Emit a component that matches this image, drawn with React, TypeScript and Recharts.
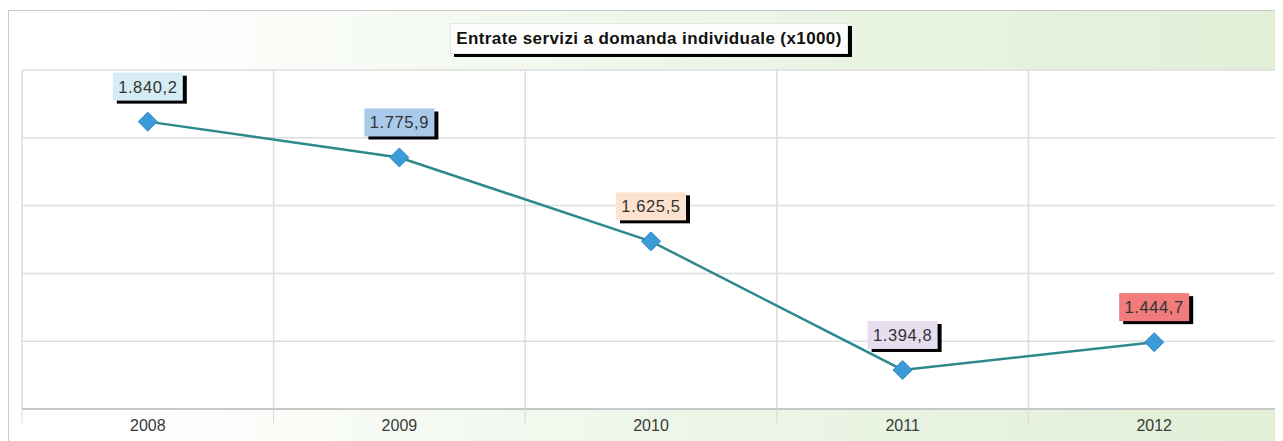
import React from 'react';
import { LineChart, Line, XAxis, YAxis, CartesianGrid, LabelList } from 'recharts';

const years = ['2008', '2009', '2010', '2011', '2012'];
const values = [1840.2, 1775.9, 1625.5, 1394.8, 1444.7];
const labelColors = ['#d6ecf5', '#a9c9ea', '#fde3cf', '#e6ddef', '#f17c7c'];
const yTicks = [1324.8, 1446.4, 1568, 1689.6, 1811.2, 1932.8];
const title = 'Entrate servizi a domanda individuale (x1000)';

const data = years.map((year, i) => ({ year, value: values[i] }));

// italian number format: 1.840,2
const fmt = (v: number) => {
  const [int, dec] = v.toFixed(1).split('.');
  return int.replace(/\B(?=(\d{3})+(?!\d))/g, '.') + ',' + dec;
};

const Diamond = (props: any) => {
  const { cx, cy } = props;
  if (cx == null || cy == null) return null;
  const r = 9.5;
  return (
    <polygon
      points={`${cx},${cy - r} ${cx + r},${cy} ${cx},${cy + r} ${cx - r},${cy}`}
      fill="#3b9bd9"
      stroke="#2f86c4"
      strokeWidth={1}
    />
  );
};

const ValueLabel = (props: any) => {
  const { x, y, value, index } = props;
  const w = 70;
  const h = 28;
  const top = y - 49;
  return (
    <g>
      <rect x={x - w / 2 + 4} y={top + 3} width={w} height={h} fill="#000" />
      <rect x={x - w / 2} y={top} width={w} height={h} fill={labelColors[index]} />
      <text
        x={x}
        y={top + h / 2 + 6}
        textAnchor="middle"
        fontSize={16.5}
        letterSpacing={0.6}
        fontFamily="Arial, 'Liberation Sans', sans-serif"
        fill="#333"
      >
        {fmt(value)}
      </text>
    </g>
  );
};

const XTick = (props: any) => {
  const { x, y, payload, index, width, visibleTicksCount } = props;
  const bw = width / visibleTicksCount;
  return (
    <g>
      <line x1={x - bw / 2} x2={x - bw / 2} y1={y} y2={y + 14} stroke="#d8d8d8" />
      {index === visibleTicksCount - 1 && (
        <line x1={x + bw / 2} x2={x + bw / 2} y1={y} y2={y + 14} stroke="#d8d8d8" />
      )}
      <text
        x={x}
        y={y + 22}
        textAnchor="middle"
        fontSize={16}
        fontFamily="Arial, 'Liberation Sans', sans-serif"
        fill="#3a3a3a"
      >
        {payload.value}
      </text>
    </g>
  );
};

export default function App() {
  return (
    <div style={{ position: 'relative', width: 1275, height: 433, overflow: 'hidden' }}>
      <style>{`html, body { overflow: hidden; }`}</style>
      <div
        style={{
          position: 'absolute',
          left: 0,
          top: 2,
          width: 1290,
          height: 440,
          border: '1px solid #c9c9c9',
          background: 'linear-gradient(to right, #ffffff 8%, #eef6e9 50%, #e1efd6 100%)',
        }}
      />
      <div style={{ position: 'absolute', left: 0, top: 0 }}>
        <LineChart
          width={1275}
          height={433}
          data={data}
          margin={{ top: 62, right: 3, left: 14, bottom: 2 }}
        >
          <CartesianGrid
            fill="#ffffff"
            stroke="#dedede"
            strokeWidth={1.5}
            horizontalCoordinatesGenerator={({ offset }: any) =>
              yTicks.map((_, i) => offset.top + (offset.height * i) / (yTicks.length - 1))
            }
            verticalCoordinatesGenerator={({ offset }: any) =>
              years.map((_, i) => offset.left + (offset.width * i) / years.length).concat(offset.left + offset.width)
            }
          />
          <XAxis
            dataKey="year"
            scale="band"
            interval={0}
            axisLine={{ stroke: '#c8c8c8', strokeWidth: 2 }}
            tickLine={false}
            tickSize={0}
            tickMargin={0}
            height={30}
            tick={<XTick />}
          />
          <YAxis hide domain={[yTicks[0], yTicks[yTicks.length - 1]]} ticks={yTicks} />
          <Line
            type="linear"
            dataKey="value"
            stroke="#2e8a8a"
            strokeWidth={2.5}
            dot={<Diamond />}
            activeDot={false}
            isAnimationActive={false}
          >
            <LabelList dataKey="value" content={<ValueLabel />} />
          </Line>
        </LineChart>
      </div>
      <div
        style={{
          position: 'absolute',
          left: 442,
          top: 15,
          width: 396,
          height: 29,
          background: '#fdfefc',
          boxShadow: '4px 3px 0 #000',
          border: '1px solid #e6e6e6',
          fontFamily: "Arial, 'Liberation Sans', sans-serif",
          fontWeight: 'bold',
          fontSize: 17,
          letterSpacing: 0.4,
          color: '#111',
          textAlign: 'center',
          lineHeight: '29px',
          whiteSpace: 'nowrap',
        }}
      >
        {title}
      </div>
    </div>
  );
}
